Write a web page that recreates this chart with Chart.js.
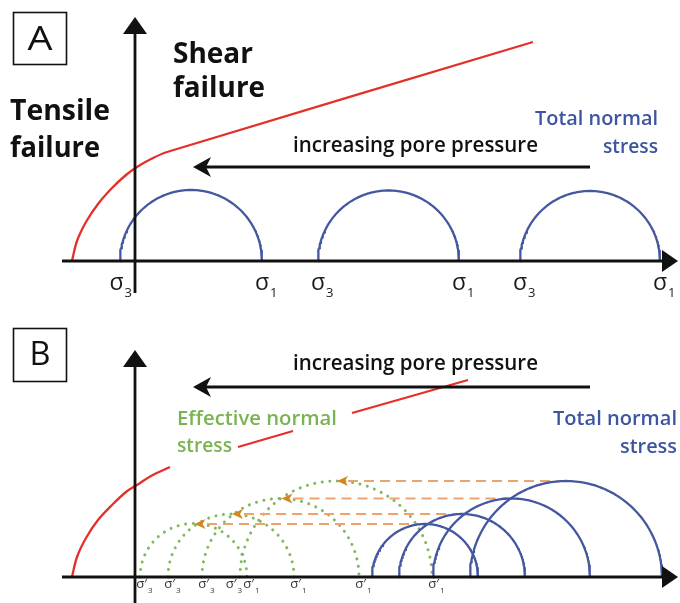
<!DOCTYPE html>
<html>
<head>
<meta charset="utf-8">
<script src="https://cdn.jsdelivr.net/npm/chart.js@4"></script>
<style>
  html, body { margin: 0; padding: 0; background: #ffffff; }
  #wrap { position: relative; width: 680px; height: 603px; overflow: hidden; }
  canvas { position: absolute; left: 0; display: block; }
  #ca { top: 0; }
  #cb { top: 301px; }
</style>
</head>
<body>
<div id="wrap">
  <canvas id="ca" width="680" height="301"></canvas>
  <canvas id="cb" width="680" height="302"></canvas>
</div>
<script>
// ---------------- DATA (stress units, y-axis at sigma = 0) ----------------
// Panel A: three Mohr circles of total stress
const sigma3_A = [-1.5, 18.3, 38.5];
const sigma1_A = [12.7, 32.4, 52.5];
// Panel A: failure envelope (tensile part + shear line)
const envX_A = [-6.3, -5.8, -4.9, -3.7, -2.3, -0.9, 0.2, 1.6, 3.2, 39.8];
const envY_A = [0.0, 2.0, 3.9, 5.7, 7.3, 8.6, 9.4, 10.2, 10.9, 21.9];

// Panel B: total-stress Mohr circles
const sigma3Total_B = [23.7, 26.4, 29.8, 33.5];
const sigma1Total_B = [34.3, 39.0, 45.5, 52.7];
// Panel B: effective-stress Mohr circles
const sigma3Eff_B = [0.5, 3.3, 6.7, 10.5];
const sigma1Eff_B = [11.2, 15.9, 22.4, 29.7];
// Panel B: failure envelope (partly hidden behind the labels -> null gaps)
const envX_B = [-6.3, -5.8, -4.9, -3.7, -2.3, -0.9, 0.2, 1.6, 3.5, 7.0, 10.3, 15.8, 18.5, 21.7, 33.3];
const envY_B = [0.0, 2.0, 3.9, 5.7, 7.2, 8.5, 9.2, 10.1, 11.0, null, 13.0, 14.6, null, 16.4, 19.7];

// Tick-like labels
const labelMainA = 'σ';
const labelSub3 = '3';
const labelSub1 = '1';
const labelMainB = 'σ′';

// ---------------- STYLE ----------------
const FONT = "'Open Sans','Noto Sans','DejaVu Sans',sans-serif";
const RED = '#e3312a';
const BLUE = '#44579f';
const BLUE_TXT = '#3d54a0';
const GREEN = '#82b85e';
const GREEN_TXT = '#7ab452';
const ORANGE = '#eca46c';
const ORANGE_HEAD = '#d2861c';
const INK = '#111111';

// ---------------- helpers ----------------
function mohr(s3, s1) {
  const c = (s1 + s3) / 2, r = (s1 - s3) / 2, pts = [];
  const n = 120;
  for (let i = 0; i <= n; i++) {
    const t = Math.PI * (1 - i / n);
    pts.push({ x: c + r * Math.cos(t), y: r * Math.sin(t) });
  }
  return pts;
}
function zipXY(xs, ys) { return xs.map((x, i) => ({ x: x, y: ys[i] })); }

function arrowHead(ctx, tx, ty, ang, L, W, indent, color) {
  const c = Math.cos(ang), s = Math.sin(ang);
  const bx = tx - L * c, by = ty - L * s;
  const px = -s, py = c;
  ctx.beginPath();
  ctx.moveTo(tx, ty);
  ctx.lineTo(bx + W * px, by + W * py);
  ctx.lineTo(tx - (L - indent) * c, ty - (L - indent) * s);
  ctx.lineTo(bx - W * px, by - W * py);
  ctx.closePath();
  ctx.fillStyle = color;
  ctx.fill();
}

function fitText(ctx, t) {
  ctx.save();
  ctx.font = t.font;
  ctx.fillStyle = t.c || INK;
  ctx.textBaseline = 'alphabetic';
  ctx.textAlign = 'left';
  const w = ctx.measureText(t.t).width;
  let sx = t.w ? t.w / w : 1;
  sx = Math.max(0.75, Math.min(1.25, sx));
  const width = w * sx;
  let left = t.x;
  if (t.align === 'right') left = t.x - width;
  if (t.align === 'center') left = t.x - width / 2;
  ctx.translate(left, t.y);
  ctx.scale(sx, 1);
  ctx.fillText(t.t, 0, 0);
  ctx.restore();
}

// ---------------- plugin drawing axes, arrows, labels ----------------
const diagramPlugin = {
  id: 'diagram',
  afterDatasetsDraw(chart) {
    const o = chart.options.plugins.diagram;
    if (!o || !o.axis) return;
    const ctx = chart.ctx;
    const xs = chart.scales.x, ys = chart.scales.y;
    const X = v => xs.getPixelForValue(v), Y = v => ys.getPixelForValue(v);

    // orange arrowheads (effective circle tops)
    (o.heads || []).forEach(h => {
      arrowHead(ctx, X(h.x) + 1, Y(h.y), Math.PI, 11, 5, 3, ORANGE_HEAD);
    });

    ctx.save();
    ctx.strokeStyle = INK;
    ctx.lineWidth = 2.8;
    ctx.lineCap = 'butt';
    // x axis
    const ax = o.axis;
    ctx.beginPath();
    ctx.moveTo(X(ax.xFrom), Y(0));
    ctx.lineTo(X(ax.xTo) - 10, Y(0));
    ctx.stroke();
    arrowHead(ctx, X(ax.xTo), Y(0), 0, 16, 11, 0, INK);
    // y axis
    ctx.beginPath();
    ctx.moveTo(X(0), Y(ax.yFrom));
    ctx.lineTo(X(0), Y(ax.yTo) + 10);
    ctx.stroke();
    arrowHead(ctx, X(0), Y(ax.yTo), -Math.PI / 2, 17, 12, 0, INK);

    // pore pressure arrow
    const pa = o.poreArrow;
    ctx.lineWidth = 2.8;
    ctx.beginPath();
    ctx.moveTo(X(pa.from), Y(pa.y));
    ctx.lineTo(X(pa.to) + 12, Y(pa.y));
    ctx.stroke();
    arrowHead(ctx, X(pa.to), Y(pa.y), Math.PI, 18, 10, 5, INK);

    // panel box
    const b = o.box;
    ctx.lineWidth = 1.6;
    ctx.strokeRect(b.x, b.y, b.w, b.h);
    ctx.restore();
    fitText(ctx, { t: b.letter, x: b.x + b.w / 2, y: b.baseline, w: b.lw, font: `400 32px ${FONT}`, align: 'center' });

    // texts
    (o.texts || []).forEach(t => fitText(ctx, t));

    // stress labels under the x axis
    const ls = o.labelStyle;
    const items = o.labels.map(l => {
      ctx.font = ls.mainFont;
      const wm = ctx.measureText(l.main).width;
      ctx.font = ls.subFont;
      const wsub = ctx.measureText(l.sub).width;
      const px = X(l.x);
      const left = px - ls.anchor * wm;
      return { l: l, left: left, wm: wm, wsub: wsub, right: left + wm + wsub + 1 };
    }).sort((a, b) => a.left - b.left);
    // avoid the y axis
    const yAxisPx = X(0);
    items.forEach(it => {
      if (it.left < yAxisPx && it.right > yAxisPx - 2) {
        const shift = it.right - (yAxisPx - 3);
        it.left -= shift; it.right -= shift;
      }
    });
    // avoid neighbouring labels (shift left one)
    for (let i = items.length - 2; i >= 0; i--) {
      const a = items[i], n = items[i + 1];
      if (a.right > n.left - 1) {
        const shift = a.right - (n.left - 1);
        a.left -= shift; a.right -= shift;
      }
    }
    ctx.save();
    ctx.fillStyle = ls.color;
    ctx.textAlign = 'left';
    ctx.textBaseline = 'alphabetic';
    items.forEach(it => {
      ctx.font = ls.mainFont;
      ctx.fillText(it.l.main, it.left, ls.baseline);
      ctx.font = ls.subFont;
      ctx.fillText(it.l.sub, it.left + it.wm + 1, ls.subBaseline);
    });
    ctx.restore();
  }
};
Chart.register(diagramPlugin);

function lineDS(data, color, width, extra) {
  return Object.assign({
    data: data, showLine: true, pointRadius: 0, pointHoverRadius: 0,
    borderColor: color, backgroundColor: color, borderWidth: width,
    fill: false, clip: false, tension: 0
  }, extra || {});
}

function baseOptions(xmin, xmax, ymin, ymax, diagram) {
  return {
    responsive: false, animation: false, events: [],
    layout: { padding: 0 },
    scales: {
      x: { type: 'linear', display: false, min: xmin, max: xmax },
      y: { type: 'linear', display: false, min: ymin, max: ymax }
    },
    plugins: { legend: { display: false }, tooltip: { enabled: false }, diagram: diagram }
  };
}

// ---------------- Panel A ----------------
const dsA = [];
sigma3_A.forEach((s3, i) => dsA.push(lineDS(mohr(s3, sigma1_A[i]), BLUE, 2.3, { order: 2 })));
dsA.push(lineDS(zipXY(envX_A, envY_A), RED, 2.3, { order: 5, tension: 0.35 }));

const labelsA = [];
sigma3_A.forEach((v, i) => {
  labelsA.push({ x: v, main: labelMainA, sub: labelSub3 });
  labelsA.push({ x: sigma1_A[i], main: labelMainA, sub: labelSub1 });
});

new Chart(document.getElementById('ca'), {
  type: 'scatter',
  data: { datasets: dsA },
  options: baseOptions(-13.5, 54.5, -4.0, 26.1, {
    axis: { xFrom: -7.3, xTo: 54.3, yFrom: -3.2, yTo: 24.4 },
    poreArrow: { from: 45.5, to: 5.8, y: 9.4 },
    box: { x: 13.5, y: 12.5, w: 53, h: 52, letter: 'A', baseline: 50, lw: 25 },
    texts: [
      { t: 'Shear', x: 173, y: 63, w: 80, font: `700 28px ${FONT}` },
      { t: 'failure', x: 173, y: 97, w: 92, font: `700 28px ${FONT}` },
      { t: 'Tensile', x: 10, y: 120, w: 100, font: `700 28px ${FONT}` },
      { t: 'failure', x: 10, y: 157, w: 90, font: `700 28px ${FONT}` },
      { t: 'increasing pore pressure', x: 293, y: 152, w: 245, font: `600 21px ${FONT}` },
      { t: 'Total normal', x: 658, y: 125, w: 123, align: 'right', c: BLUE_TXT, font: `600 20px ${FONT}` },
      { t: 'stress', x: 658, y: 153, w: 55, align: 'right', c: BLUE_TXT, font: `600 20px ${FONT}` }
    ],
    labels: labelsA,
    labelStyle: { mainFont: `400 23px ${FONT}`, subFont: `400 13px ${FONT}`, baseline: 290, subBaseline: 297, anchor: 0.5, color: '#1a1a1a' }
  })
});

// ---------------- Panel B ----------------
const dsB = [];
sigma3Total_B.forEach((s3, i) => dsB.push(lineDS(mohr(s3, sigma1Total_B[i]), BLUE, 2.3, { order: 2 })));
sigma3Total_B.forEach((s3, i) => {
  const s1 = sigma1Total_B[i];
  const r = (s1 - s3) / 2;
  const ce = (sigma3Eff_B[i] + sigma1Eff_B[i]) / 2;
  dsB.push(lineDS([{ x: (s1 + s3) / 2, y: r }, { x: ce + 1.0, y: r }], ORANGE, 1.8, { order: 3, borderDash: [10, 6] }));
});
sigma3Eff_B.forEach((s3, i) => dsB.push(lineDS(mohr(s3, sigma1Eff_B[i]), GREEN, 3, {
  order: 4, borderDash: [0.01, 7.6], borderCapStyle: 'round'
})));
dsB.push(lineDS(zipXY(envX_B, envY_B), RED, 2.3, { order: 5, tension: 0.35 }));

const headsB = sigma3Total_B.map((s3, i) => ({
  x: (sigma3Eff_B[i] + sigma1Eff_B[i]) / 2,
  y: (sigma1Total_B[i] - s3) / 2
}));
const labelsB = [];
sigma3Eff_B.forEach(v => labelsB.push({ x: v, main: labelMainB, sub: labelSub3 }));
sigma1Eff_B.forEach(v => labelsB.push({ x: v, main: labelMainB, sub: labelSub1 }));

new Chart(document.getElementById('cb'), {
  type: 'scatter',
  data: { datasets: dsB },
  options: baseOptions(-13.5, 54.5, -2.6, 27.6, {
    axis: { xFrom: -7.3, xTo: 54.3, yFrom: -3.0, yTo: 22.7 },
    poreArrow: { from: 45.5, to: 5.8, y: 19.0 },
    box: { x: 13.5, y: 27.5, w: 53, h: 53, letter: 'B', baseline: 64, lw: 21 },
    heads: headsB,
    texts: [
      { t: 'increasing pore pressure', x: 293, y: 69, w: 245, font: `600 21px ${FONT}` },
      { t: 'Effective normal', x: 177, y: 124, w: 160, c: GREEN_TXT, font: `600 20px ${FONT}` },
      { t: 'stress', x: 177, y: 151, w: 55, c: GREEN_TXT, font: `600 20px ${FONT}` },
      { t: 'Total normal', x: 677, y: 124, w: 124, align: 'right', c: BLUE_TXT, font: `600 20px ${FONT}` },
      { t: 'stress', x: 677, y: 152, w: 57, align: 'right', c: BLUE_TXT, font: `600 20px ${FONT}` }
    ],
    labels: labelsB,
    labelStyle: { mainFont: `400 13px ${FONT}`, subFont: `400 8px ${FONT}`, baseline: 287, subBaseline: 292, anchor: 0.35, color: '#333333' }
  })
});
</script>
</body>
</html>
